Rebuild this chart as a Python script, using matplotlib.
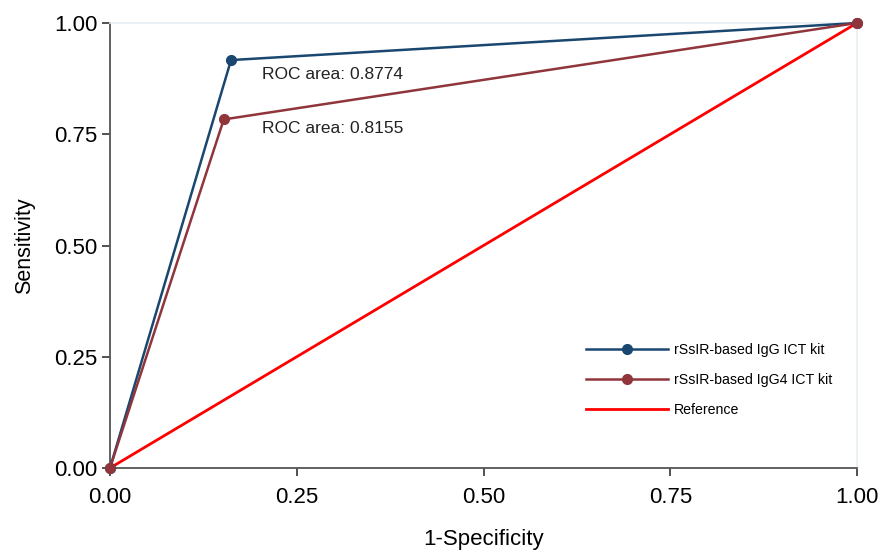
import matplotlib
matplotlib.use("Agg")
import matplotlib.pyplot as plt

plt.rcParams['font.family'] = ['Liberation Sans', 'DejaVu Sans']

# Data
igg_x = [0.0, 0.162, 1.0]
igg_y = [0.0, 0.9167, 1.0]
igg4_x = [0.0, 0.1523, 1.0]
igg4_y = [0.0, 0.7833, 1.0]
ref_x = [0.0, 1.0]
ref_y = [0.0, 1.0]
ticks = [0.0, 0.25, 0.5, 0.75, 1.0]
tick_labels = ["0.00", "0.25", "0.50", "0.75", "1.00"]
labels = ["rSsIR-based IgG ICT kit", "rSsIR-based IgG4 ICT kit", "Reference"]
auc_text = ["ROC area: 0.8774", "ROC area: 0.8155"]
auc_pos = [(0.2035, 0.885), (0.2035, 0.762)]

fig = plt.figure(figsize=(8.82, 5.5), dpi=100)
ax = fig.add_axes([110/882, 1-468/550, (857-110)/882, (468-23)/550])

navy = '#1a476f'
maroon = '#90353b'
red = '#ff0000'

ax.plot(igg_x, igg_y, color=navy, lw=1.8, marker='o', ms=7, label=labels[0], clip_on=False, zorder=3)
ax.plot(igg4_x, igg4_y, color=maroon, lw=1.8, marker='o', ms=7, label=labels[1], clip_on=False, zorder=3)
ax.plot(ref_x, ref_y, color=red, lw=2.0, label=labels[2], clip_on=False, zorder=2)

for t, (px, py) in zip(auc_text, auc_pos):
    ax.text(px, py, t, fontsize=12.5, va='center', ha='left', color='#222222')

ax.set_xlim(0, 1)
ax.set_ylim(0, 1)
ax.set_xticks(ticks)
ax.set_xticklabels(tick_labels)
ax.set_yticks(ticks)
ax.set_yticklabels(tick_labels)
ax.tick_params(direction='out', length=6, width=1.2, labelsize=16, colors='#333333', labelcolor='black')
ax.tick_params(axis='x', pad=8)
ax.tick_params(axis='y', pad=3)
ax.set_xlabel("1-Specificity", fontsize=16, labelpad=15)
ax.set_ylabel("Sensitivity", fontsize=15.5, labelpad=14)

for s in ['left', 'bottom']:
    ax.spines[s].set_color('#555555')
    ax.spines[s].set_linewidth(1.3)
for s in ['top', 'right']:
    ax.spines[s].set_color('#e6eff2')
    ax.spines[s].set_linewidth(1.2)

leg = ax.legend(loc='lower right', bbox_to_anchor=(0.984, 0.085), frameon=False, fontsize=10.2,
                handlelength=5.8, labelspacing=1.15, handletextpad=0.4)

fig.savefig("out.png", dpi=100)
